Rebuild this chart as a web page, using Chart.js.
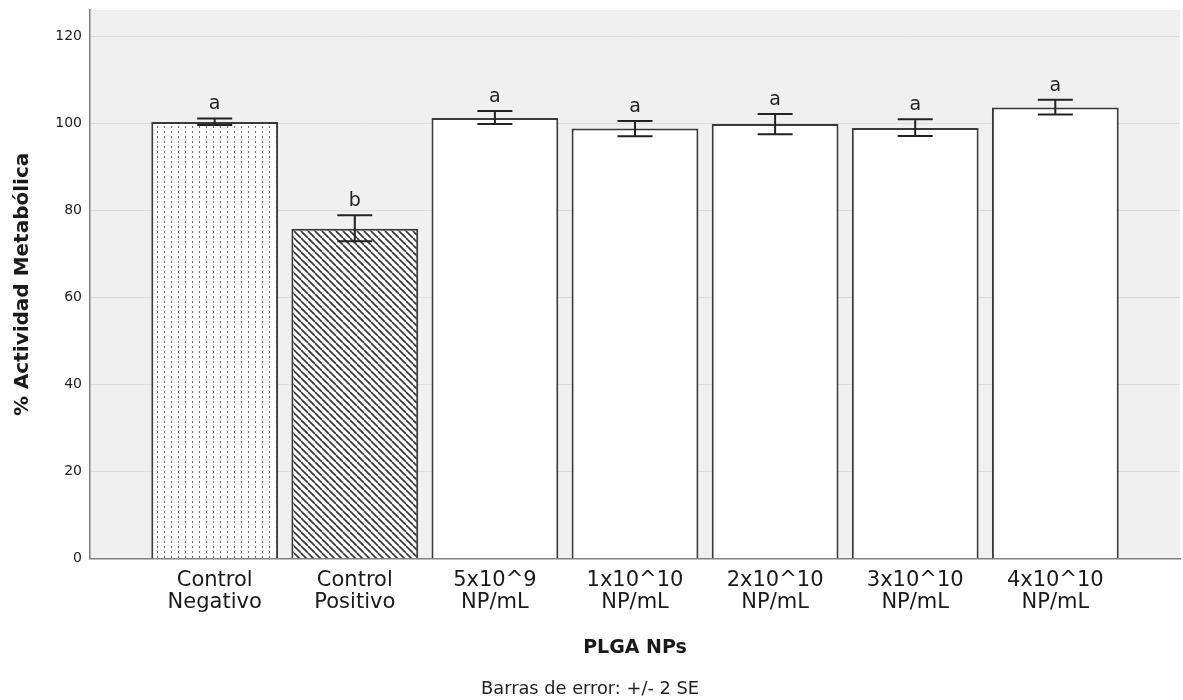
<!DOCTYPE html>
<html>
<head>
<meta charset="utf-8">
<script src="https://cdn.jsdelivr.net/npm/chart.js@4"></script>
<style>
  html, body { margin: 0; padding: 0; background: #fff; }
  #wrap { width: 1183px; height: 700px; }
</style>
</head>
<body>
<div id="wrap"><canvas id="barChart"></canvas></div>
<script>
const categories = [
    ['Control', 'Negativo'],
    ['Control', 'Positivo'],
    ['5x10^9', 'NP/mL'],
    ['1x10^10', 'NP/mL'],
    ['2x10^10', 'NP/mL'],
    ['3x10^10', 'NP/mL'],
    ['4x10^10', 'NP/mL']
];
const means = [100.3, 75.8, 101.2, 98.8, 99.8, 98.9, 103.6];
const errLow = [99.6, 72.9, 99.8, 97.0, 97.5, 97.1, 102.0];
const errHigh = [101.1, 78.9, 102.8, 100.5, 102.1, 100.9, 105.4];
const groupLetters = ['a', 'b', 'a', 'a', 'a', 'a', 'a'];
const yTicks = [0, 20, 40, 60, 80, 100, 120];

const FONT = "'DejaVu Sans', sans-serif";

// fill patterns for the two control bars
function dotPattern() {
    const c = document.createElement('canvas');
    c.width = 7; c.height = 5;
    const g = c.getContext('2d');
    g.fillStyle = '#fff';
    g.fillRect(0, 0, 7, 5);
    g.fillStyle = '#6e6e6e';
    g.fillRect(3, 1, 1, 2);
    return g.createPattern(c, 'repeat');
}

function hatchPattern() {
    const c = document.createElement('canvas');
    c.width = 7; c.height = 7;
    const g = c.getContext('2d');
    g.fillStyle = '#fff';
    g.fillRect(0, 0, 7, 7);
    g.strokeStyle = '#333';
    g.lineWidth = 1.6;
    [-7, 0, 7].forEach(function (k) {
        g.beginPath();
        g.moveTo(k, 0);
        g.lineTo(k + 7, 7);
        g.stroke();
    });
    return g.createPattern(c, 'repeat');
}

const fills = means.map(function (v, i) {
    if (i === 0) return dotPattern();
    if (i === 1) return hatchPattern();
    return '#ffffff';
});

const plotBackground = {
    id: 'plotBackground',
    beforeDraw(chart) {
        const a = chart.chartArea;
        const ctx = chart.ctx;
        ctx.save();
        ctx.fillStyle = '#f0f0f0';
        ctx.fillRect(a.left, a.top, a.right - a.left, a.bottom - a.top);
        ctx.restore();
    }
};

const errorBars = {
    id: 'errorBars',
    afterDatasetsDraw(chart) {
        const ctx = chart.ctx;
        const y = chart.scales.y;
        const meta = chart.getDatasetMeta(0);
        ctx.save();
        ctx.strokeStyle = '#222';
        ctx.lineWidth = 2;
        meta.data.forEach(function (bar, i) {
            const x = bar.x;
            const lo = y.getPixelForValue(errLow[i]);
            const hi = y.getPixelForValue(errHigh[i]);
            ctx.beginPath();
            ctx.moveTo(x, lo); ctx.lineTo(x, hi);
            ctx.moveTo(x - 17.5, lo); ctx.lineTo(x + 17.5, lo);
            ctx.moveTo(x - 17.5, hi); ctx.lineTo(x + 17.5, hi);
            ctx.stroke();
            ctx.fillStyle = '#222';
            ctx.font = '19px ' + FONT;
            ctx.textAlign = 'center';
            ctx.textBaseline = 'alphabetic';
            ctx.fillText(groupLetters[i], x, hi - 9);
        });
        ctx.restore();
    }
};

new Chart(document.getElementById('barChart'), {
    type: 'bar',
    data: {
        datasets: [{
            data: means.map(function (v, i) { return { x: i, y: v }; }),
            backgroundColor: fills,
            borderColor: '#3a3a3a',
            borderWidth: 2,
            categoryPercentage: 1,
            barPercentage: 0.905
        }]
    },
    options: {
        responsive: true,
        maintainAspectRatio: false,
        animation: false,
        layout: { padding: { top: 10, right: 3, left: 0, bottom: 0 } },
        plugins: {
            legend: { display: false },
            tooltip: { enabled: false },
            subtitle: {
                display: true,
                text: 'Barras de error: +/- 2 SE',
                position: 'bottom',
                color: '#222',
                font: { family: FONT, size: 17.8 },
                padding: { top: 15, bottom: 0.4 }
            }
        },
        scales: {
            x: {
                type: 'linear',
                min: -0.89,
                max: 6.89,
                offset: false,
                afterBuildTicks: function (scale) {
                    scale.ticks = categories.map(function (c, i) { return { value: i }; });
                },
                afterFit: function (scale) { scale.height = 104.4; },
                grid: { display: false, drawTicks: false, offset: false },
                border: { display: true, color: '#808080', width: 1.5 },
                ticks: {
                    autoSkip: false,
                    maxRotation: 0,
                    padding: 11,
                    color: '#1a1a1a',
                    font: { family: FONT, size: 21, lineHeight: 1.03 },
                    callback: function (value) { return categories[value]; }
                },
                title: {
                    display: true,
                    text: 'PLGA NPs',
                    color: '#1a1a1a',
                    font: { family: FONT, size: 19, weight: 'bold' },
                    padding: { top: 0, bottom: 4 }
                }
            },
            y: {
                min: 0,
                max: 126,
                afterBuildTicks: function (scale) {
                    scale.ticks = yTicks.map(function (v) { return { value: v }; });
                },
                afterFit: function (scale) {
                    scale.width = 90;
                    scale.paddingTop = 0;
                    scale.paddingBottom = 0;
                },
                grid: { color: '#dcdcdc', lineWidth: 1, drawTicks: false },
                border: { display: true, color: '#808080', width: 1.5 },
                ticks: {
                    padding: 8,
                    color: '#222',
                    font: { family: FONT, size: 14 }
                },
                title: {
                    display: true,
                    text: '% Actividad Metabólica',
                    color: '#1a1a1a',
                    font: { family: FONT, size: 20, weight: 'bold' },
                    padding: { top: 10.5, bottom: 0 }
                }
            }
        }
    },
    plugins: [plotBackground, errorBars]
});
</script>
</body>
</html>
